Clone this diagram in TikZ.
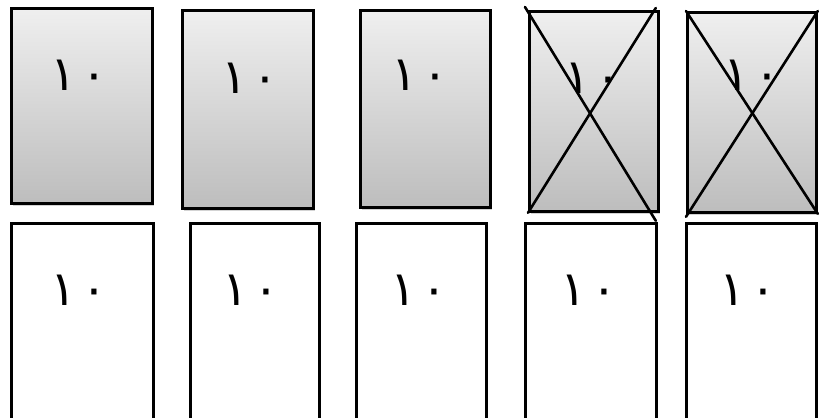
\documentclass[tikz,border=0pt]{standalone}
\usepackage{fontspec}
\newfontfamily\arabicfont[Script=Arabic]{DejaVu Sans}
\usetikzlibrary{shadows}
\definecolor{gtop}{HTML}{EFEFEF}
\definecolor{gbot}{HTML}{BDBDBD}
\tikzset{
  x=1pt, y=1pt,
  card/.style={draw=black, line width=2.8pt, anchor=north west, inner sep=0pt},
  topcard/.style={card, top color=gtop, bottom color=gbot,
    drop shadow={opacity=0.35, shadow xshift=2pt, shadow yshift=-3pt}},
  botcard/.style={card, fill=white},
  num/.style={font=\arabicfont\fontsize{48}{48}\selectfont, inner sep=0pt},
  cross/.style={line width=2.6pt, line cap=round}
}
\newcommand{\tennum}{١\hspace{5pt}٠}
\begin{document}
\begin{tikzpicture}
\useasboundingbox (0,0) rectangle (820,418);
\clip (0,0) rectangle (820,418);
% top row
\node[topcard, minimum width=141, minimum height=195] (t1) at (10,411) {};
\node[topcard, minimum width=131, minimum height=198] (t2) at (181,409) {};
\node[topcard, minimum width=130, minimum height=197] (t3) at (359,409) {};
\node[topcard, minimum width=129, minimum height=200] (t4) at (528,408) {};
\node[topcard, minimum width=129, minimum height=200] (t5) at (686,407) {};
% bottom row
\node[botcard, minimum width=142, minimum height=210] (b1) at (10,196) {};
\node[botcard, minimum width=129, minimum height=210] (b2) at (189,196) {};
\node[botcard, minimum width=130, minimum height=210] (b3) at (355,196) {};
\node[botcard, minimum width=131, minimum height=210] (b4) at (524,196) {};
\node[botcard, minimum width=130, minimum height=210] (b5) at (685,196) {};
% labels
\node[num] (lt1) at (79,343) {\tennum};
\node[num] (lt2) at (250,340) {\tennum};
\node[num] (lt3) at (420,343) {\tennum};
\node[num] (lt4) at (593,340) {\tennum};
\node[num] (lt5) at (752,343) {\tennum};
\node[num] (lb1) at (79,128) {\tennum};
\node[num] (lb2) at (251,128) {\tennum};
\node[num] (lb3) at (419,128) {\tennum};
\node[num] (lb4) at (589,128) {\tennum};
\node[num] (lb5) at (748,128) {\tennum};
% crosses
\draw[cross] ([shift={(-3,3)}]t4.north west) -- ([shift={(-4,-8)}]t4.south east);
\draw[cross] (t4.south west) -- ([shift={(-4,2)}]t4.north east);
\draw[cross] (t5.north west) -- (t5.south east);
\draw[cross] ([shift={(0,-3)}]t5.south west) -- (t5.north east);
\end{tikzpicture}
\end{document}
